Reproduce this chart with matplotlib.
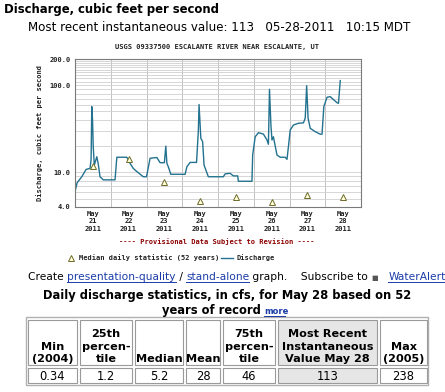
import matplotlib
matplotlib.use('Agg')
import matplotlib.pyplot as plt
from matplotlib.lines import Line2D
from matplotlib.patches import Rectangle
from matplotlib.font_manager import FontProperties

W, H = 445, 392

# discharge, days after May 21 2011 00:00 MDT
days = [0.00, 0.06, 0.19, 0.31, 0.42, 0.45, 0.47, 0.49, 0.51, 0.54, 0.61, 0.65, 0.70, 0.79,
        1.12, 1.17, 1.45, 1.54, 1.63, 1.73, 1.91, 2.00, 2.10, 2.29, 2.38, 2.50, 2.54, 2.57,
        2.61, 2.68, 3.08, 3.13, 3.22, 3.40, 3.45, 3.47, 3.52, 3.57, 3.61, 3.73, 4.15, 4.20,
        4.34, 4.43, 4.55, 4.57, 4.95, 4.97, 5.04, 5.13, 5.27, 5.37, 5.41, 5.44, 5.48, 5.51,
        5.55, 5.65, 5.74, 5.88, 5.93, 5.97, 6.02, 6.11, 6.25, 6.39, 6.44, 6.48, 6.52, 6.58,
        6.72, 6.86, 6.91, 6.96, 7.05, 7.14, 7.24, 7.33, 7.37, 7.42]
cfs = [6.0, 7.6, 8.9, 10.8, 11.1, 14.0, 56.7, 40.0, 19.7, 12.1, 15.1, 12.5, 8.9, 8.2,
       8.2, 14.9, 14.9, 12.7, 11.1, 10.2, 8.9, 8.9, 14.5, 14.8, 12.9, 12.9, 20.0, 12.7,
       11.6, 9.5, 9.5, 11.6, 13.0, 13.0, 30.0, 60.0, 24.6, 22.5, 12.1, 8.9, 8.9, 9.6,
       9.75, 9.1, 9.1, 7.9, 7.9, 15.8, 25.6, 28.5, 27.5, 23.5, 21.0, 89.8, 34.9, 23.5,
       25.6, 15.8, 14.9, 14.9, 14.1, 19.7, 30.6, 34.9, 36.6, 37.0, 41.9, 98.8, 41.7, 32.0,
       29.3, 27.4, 27.4, 56.7, 72.8, 73.9, 67.8, 63.0, 62.0, 113.0]

median_days = [0.5, 1.5, 2.5, 3.5, 4.5, 5.5, 6.5, 7.5]
median_cfs = [11.9, 14.2, 7.8, 4.65, 5.25, 4.6, 5.5, 5.2]

date_labels = ['May\n21\n2011', 'May\n22\n2011', 'May\n23\n2011', 'May\n24\n2011',
               'May\n25\n2011', 'May\n26\n2011', 'May\n27\n2011', 'May\n28\n2011']
ytick_vals = [4, 10, 100, 200]

stat_headers = ['Min\n(2004)', '25th\npercen-\ntile', 'Median', 'Mean',
                '75th\npercen-\ntile', 'Most Recent\nInstantaneous\nValue May 28', 'Max\n(2005)']
stat_values = ['0.34', '1.2', '5.2', '28', '46', '113', '238']

LINE = '#23728f'
MONO = 'DejaVu Sans Mono'
LINK = '#1a3ca8'


def fx(x):
    return x / W


def fy(y):
    return 1 - y / H


fig = plt.figure(figsize=(W / 100, H / 100), dpi=100)
fig.patch.set_facecolor('white')

# page header
fig.text(fx(4), fy(13), 'Discharge, cubic feet per second', fontsize=8.4,
         fontweight='bold', va='baseline', ha='left')
fig.text(fx(28), fy(31), 'Most recent instantaneous value: 113   05-28-2011   10:15 MDT',
         fontsize=8.6, va='baseline', ha='left')

# chart
fig.text(fx(217), fy(47), 'USGS 09337500 ESCALANTE RIVER NEAR ESCALANTE, UT',
         family=MONO, fontsize=5, fontweight='bold', ha='center', va='center', color='#222')

ax = fig.add_axes([fx(75), fy(207), 286 / W, 148 / H])
ax.set_yscale('log')
ax.set_ylim(4, 200)
ax.set_xlim(0, 8)
ax.plot(days, cfs, color=LINE, lw=1.0)
ax.plot(median_days, median_cfs, ls='none', marker='^', ms=4.5, mfc='#ffffd8',
        mec='#6e6a2c', mew=0.7)

minor_y = [5, 6, 7, 8, 9, 20, 30, 40, 50, 60, 70, 80, 90,
           110, 120, 130, 140, 150, 160, 170, 180, 190]
ax.set_yticks(ytick_vals)
ax.set_yticks(minor_y, minor=True)
ax.set_yticklabels(['%.1f' % v for v in ytick_vals], family=MONO, fontsize=5,
                   fontweight='bold', color='#222')
ax.yaxis.set_minor_formatter(plt.NullFormatter())
ax.set_xticks(range(9))
ax.set_xticklabels([])
ax.set_xticks(median_days, minor=True)
ax.set_xticklabels(date_labels, minor=True, family=MONO, fontsize=5,
                   fontweight='bold', color='#222', linespacing=1.25)
ax.tick_params(which='both', length=0, pad=3)
ax.grid(which='both', axis='y', color='#d0d0d0', lw=0.6)
ax.grid(which='major', axis='x', color='#b8b8b8', lw=0.6)
ax.set_axisbelow(True)
for sp in ax.spines.values():
    sp.set_color('#7a7a7a')
    sp.set_linewidth(0.8)
ax.set_ylabel('Discharge, cubic feet per second', family=MONO, fontsize=5,
              fontweight='bold', color='#222', labelpad=5)

fig.text(fx(217), fy(242), '---- Provisional Data Subject to Revision ----',
         family=MONO, fontsize=5, fontweight='bold', color='#8b0000',
         ha='center', va='center')

# legend
fig.add_artist(Line2D([fx(71)], [fy(257.5)], marker='^', ms=4.5, mfc='#ffffd8',
                      mec='#6e6a2c', mew=0.7, ls='none'))
fig.text(fx(79), fy(257.5), 'Median daily statistic (52 years)', family=MONO,
         fontsize=5, fontweight='bold', color='#222', va='center', ha='left')
fig.add_artist(Line2D([fx(221), fx(233)], [fy(257.5), fy(257.5)], color=LINE, lw=1))
fig.text(fx(236), fy(257.5), 'Discharge', family=MONO, fontsize=5,
         fontweight='bold', color='#222', va='center', ha='left')

# links line
renderer = fig.canvas.get_renderer()
LFS = 7.7
link_font = FontProperties(size=LFS)


def text_w(s):
    w, _, _ = renderer.get_text_width_height_descent(s + 'x', link_font, ismath=False)
    wx, _, _ = renderer.get_text_width_height_descent('x', link_font, ismath=False)
    return w - wx


pieces = [('Create ', 'black', False), ('presentation-quality', LINK, True),
          (' / ', 'black', False), ('stand-alone', LINK, True),
          (' graph.    Subscribe to ', 'black', False), ('\u25a0', '#555555', False),
          ('  ', 'black', False), ('WaterAlert', LINK, True)]
x0 = 28
base = 280
prefix = ''
for s, col, link in pieces:
    xs = x0 + text_w(prefix)
    fs = 5 if s == '\u25a0' else LFS
    fig.text(fx(xs), fy(base), s, fontsize=fs, color=col, va='baseline', ha='left')
    if link:
        xe = x0 + text_w(prefix + s)
        fig.add_artist(Line2D([fx(xs), fx(xe)], [fy(base + 1.5), fy(base + 1.5)],
                              color=col, lw=0.7))
    prefix += s

# statistics table
fig.text(fx(227), fy(299), 'Daily discharge statistics, in cfs, for May 28 based on 52',
         fontsize=8.3, fontweight='bold', ha='center', va='baseline')
fig.text(fx(261), fy(314), 'years of record', fontsize=8.3, fontweight='bold',
         ha='right', va='baseline')
fig.text(fx(264), fy(314), 'more', fontsize=6, fontweight='bold', color=LINK,
         ha='left', va='baseline')
fig.add_artist(Line2D([fx(264), fx(285)], [fy(316), fy(316)], color=LINK, lw=0.7))

col_edges = [26, 78, 133, 184, 221, 276, 378, 428]
row_edges = [318, 366, 383.5]
fig.add_artist(Rectangle((fx(col_edges[0]), fy(row_edges[2] + 1)),
                         (col_edges[-1] - col_edges[0]) / W,
                         (row_edges[2] - row_edges[0] + 2) / H,
                         transform=fig.transFigure, fill=False, ec='#b0b0b0', lw=1))
for r in range(2):
    for c in range(len(stat_values)):
        xa, xb = col_edges[c] + 2, col_edges[c + 1] - 1
        ya, yb = row_edges[r] + 1.5, row_edges[r + 1] - 1
        bg = '#e6e6e6' if c == 5 else 'white'
        fig.add_artist(Rectangle((fx(xa), fy(yb)), (xb - xa) / W, (yb - ya) / H,
                                 transform=fig.transFigure, fc=bg, ec='#9a9a9a', lw=0.8))
        xm = (xa + xb) / 2
        if r == 0:
            fig.text(fx(xm), fy(362), stat_headers[c], fontsize=8.1, fontweight='bold',
                     ha='center', va='baseline', linespacing=1.3, multialignment='center')
        else:
            fig.text(fx(xm), fy(380), stat_values[c], fontsize=8.3, ha='center',
                     va='baseline')

fig.savefig('out.png', dpi=100, facecolor='white')
